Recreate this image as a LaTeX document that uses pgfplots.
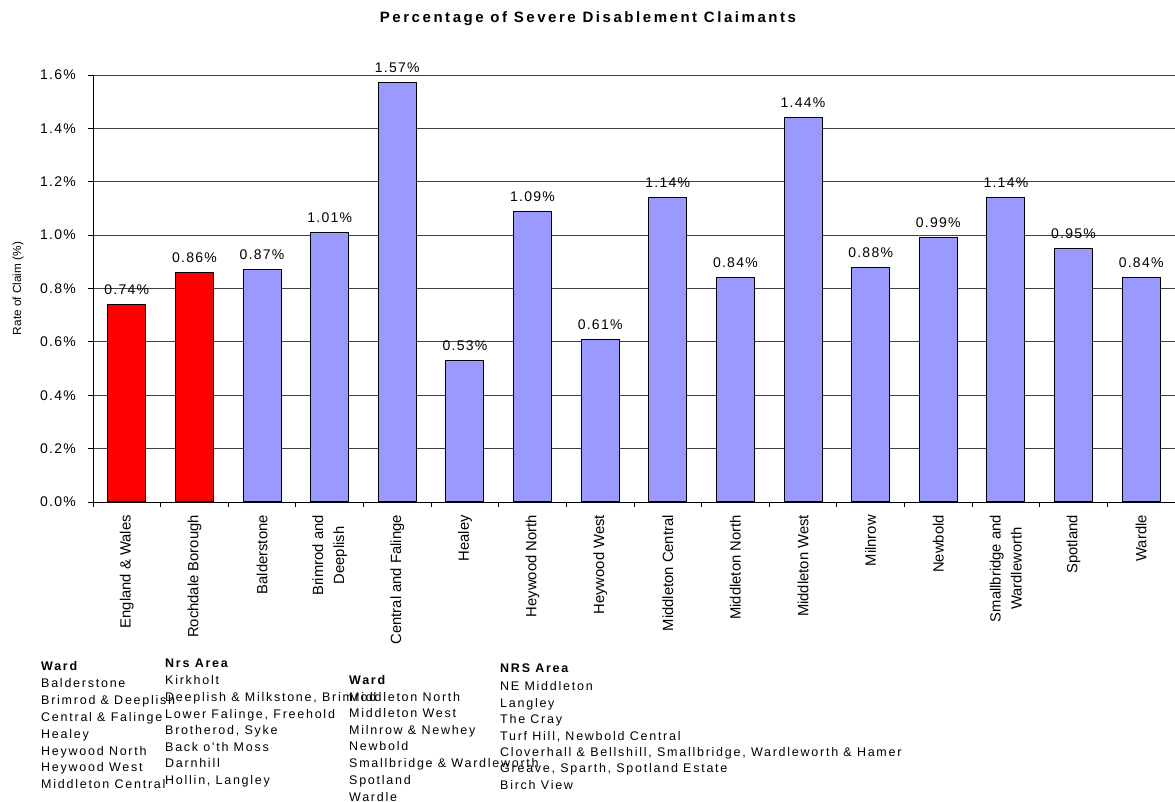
\documentclass[border=0pt]{standalone}
\usepackage{fontspec}
\setmainfont{Liberation Sans}
\newfontfamily\spf[LetterSpace=9]{Liberation Sans}
\newfontfamily\ttlf[LetterSpace=17]{Liberation Sans}
\newfontfamily\notef[LetterSpace=14]{Liberation Sans}
\usepackage{pgfplots}
\pgfplotsset{compat=1.18}
\usepackage{pgfplotstable}
\definecolor{peri}{RGB}{153,153,255}
\definecolor{barred}{RGB}{255,0,0}

\pgfplotstableread{
x y lab
0 0.74 0.74
1 0.86 0.86
}\redtab
\pgfplotstableread{
x y lab
2 0.87 0.87
3 1.01 1.01
4 1.57 1.57
5 0.53 0.53
6 1.09 1.09
7 0.61 0.61
8 1.14 1.14
9 0.84 0.84
10 1.44 1.44
11 0.88 0.88
12 0.99 0.99
13 1.14 1.14
14 0.95 0.95
15 0.84 0.84
}\bluetab

\newcommand\nl[3]{\node[anchor=base west, inner sep=0pt, font=\notef\fontsize{12.5}{14}\selectfont] at (#1pt, 797.5pt-#2pt) {#3};}
\newcommand\nlb[3]{\node[anchor=base west, inner sep=0pt, font=\notef\bfseries\fontsize{12.5}{14}\selectfont] at (#1pt, 797.5pt-#2pt) {#3};}

\begin{document}
\begin{tikzpicture}
\useasboundingbox (0,0) rectangle (1175pt,802pt);
\begin{axis}[
  scale only axis,
  width=1082pt, height=427pt,
  at={(93pt,300pt)}, anchor=south west,
  xmin=-0.5, xmax=15.5, ymin=0, ymax=1.6,
  axis x line*=bottom, axis y line*=left,
  axis line style={black, line width=0.9pt},
  ybar, bar width=38pt, bar shift=0pt,
  ymajorgrids,
  grid style={black!75, line width=0.8pt},
  tick align=outside,
  major tick length=5pt,
  minor tick length=5pt,
  ytick={0,0.2,0.4,0.6,0.8,1.0,1.2,1.4,1.6},
  yticklabels={0.0\%,0.2\%,0.4\%,0.6\%,0.8\%,1.0\%,1.2\%,1.4\%,1.6\%},
  yticklabel style={font=\spf\fontsize{14}{16}\selectfont, anchor=east, inner sep=0pt, xshift=-12pt},
  y tick style={black, line width=0.9pt},
  xtick={0,...,15},
  major x tick style={draw=none},
  minor xtick={-0.5,0.5,...,15.5},
  minor x tick style={black, line width=0.9pt},
  xticklabels={{England \& Wales},{Rochdale Borough},{Balderstone},{Brimrod and\\Deeplish},{Central and Falinge},{Healey},{Heywood North},{Heywood West},{Middleton Central},{Middleton North},{Middleton West},{Milnrow},{Newbold},{Smallbridge and\\Wardleworth},{Spotland},{Wardle}},
  xticklabel style={rotate=90, anchor=east, align=center, inner sep=0pt, font=\fontsize{14.8}{21}\selectfont},
  xticklabel shift=8pt,
  ylabel={Rate of Claim (\%)},
  ylabel style={at={(axis description cs:-0.0693,0.5)}, anchor=center, rotate=0, font=\fontsize{11.8}{14}\selectfont},
  nodes near coords={\pgfplotspointmeta\%},
  point meta=explicit symbolic,
  every node near coord/.append style={anchor=base, yshift=10pt, inner sep=0pt, font=\spf\fontsize{14}{16}\selectfont, black},
  clip=false,
]
\addplot[draw=black, line width=1pt, fill=barred] table[x=x, y=y, meta=lab] {\redtab};
\addplot[draw=black, line width=1pt, fill=peri] table[x=x, y=y, meta=lab] {\bluetab};
\end{axis}
\node[font=\ttlf\bfseries\fontsize{15}{17}\selectfont, inner sep=0pt] at (588pt,783pt) {Percentage of Severe Disablement Claimants};

\nlb{41}{666}{Ward}
\nl{41}{683}{Balderstone}
\nl{41}{700}{Brimrod \& Deeplish}
\nl{41}{717}{Central \& Falinge}
\nl{41}{734}{Healey}
\nl{41}{751}{Heywood North}
\nl{41}{767}{Heywood West}
\nl{41}{784}{Middleton Central}

\nlb{165}{663}{Nrs Area}
\nl{165}{680}{Kirkholt}
\nl{165}{697}{Deeplish \& Milkstone, Brimrod}
\nl{165}{714}{Lower Falinge, Freehold}
\nl{165}{730}{Brotherod, Syke}
\nl{165}{747}{Back o'th Moss}
\nl{165}{763}{Darnhill}
\nl{165}{780}{Hollin, Langley}

\nlb{349}{680}{Ward}
\nl{349}{697}{Middleton North}
\nl{349}{713}{Middleton West}
\nl{349}{730}{Milnrow \& Newhey}
\nl{349}{746}{Newbold}
\nl{349}{763}{Smallbridge \& Wardleworth}
\nl{349}{780}{Spotland}
\nl{349}{797}{Wardle}

\nlb{500}{668}{NRS Area}
\nl{500}{686}{NE Middleton}
\nl{500}{703}{Langley}
\nl{500}{719}{The Cray}
\nl{500}{736}{Turf Hill, Newbold Central}
\nl{500}{752}{Cloverhall \& Bellshill, Smallbridge, Wardleworth \& Hamer}
\nl{500}{768}{Greave, Sparth, Spotland Estate}
\nl{500}{785}{Birch View}
\end{tikzpicture}
\end{document}
